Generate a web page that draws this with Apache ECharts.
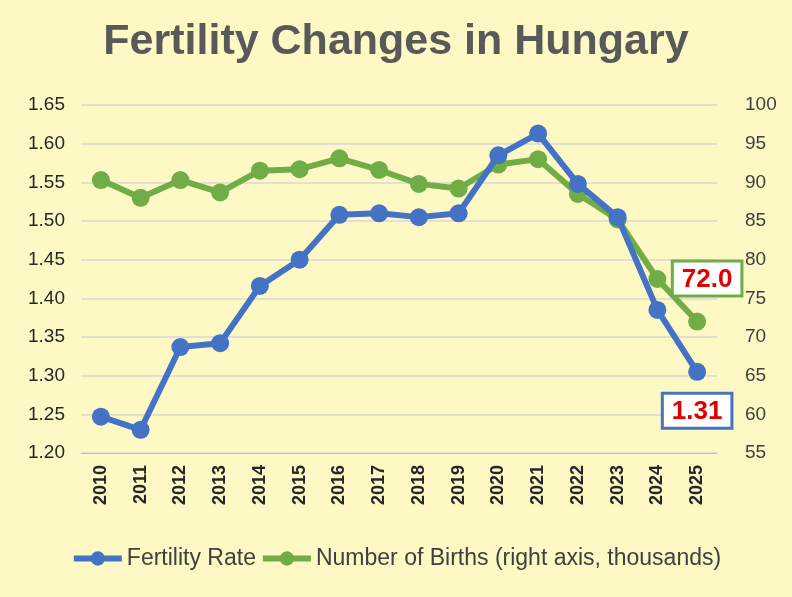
<!DOCTYPE html>
<html><head><meta charset="utf-8">
<script src="https://cdn.jsdelivr.net/npm/echarts@6/dist/echarts.min.js"></script>
<style>html,body{margin:0;padding:0;background:#fdf8c4}#c{width:792px;height:597px}</style>
</head><body><div id="c"></div>
<script>
const years = ['2010','2011','2012','2013','2014','2015','2016','2017','2018','2019','2020','2021','2022','2023','2024','2025'];
const fertility = [1.247,1.23,1.337,1.342,1.416,1.45,1.508,1.51,1.505,1.51,1.585,1.613,1.548,1.505,1.385,1.305];
const births = [90.3,88.0,90.3,88.7,91.5,91.7,93.1,91.6,89.8,89.2,92.3,93.0,88.5,85.2,77.5,72.0];
const leftTicks = {min: 1.2, max: 1.65, interval: 0.05};
const rightTicks = {min: 55, max: 100, interval: 5};

const chart = echarts.init(document.getElementById('c'));
const last = years.length - 1;
chart.setOption({
  backgroundColor: '#fdf8c4',
  title: {text: 'Fertility Changes in Hungary', left: 'center', top: 16,
    textStyle: {fontFamily: 'Liberation Sans', fontSize: 43, fontWeight: 'bold', color: '#595959'}},
  legend: {bottom: 22, left: 'center', itemWidth: 48, itemHeight: 18, itemGap: 4,
    lineStyle: {width: 6},
    textStyle: {fontFamily: 'Liberation Sans', fontSize: 23, color: '#404040'},
    data: ['Fertility Rate', 'Number of Births (right axis, thousands)']},
  grid: {left: 81, right: 75, top: 105, bottom: 144},
  xAxis: {type: 'category', data: years, boundaryGap: true,
    axisLine: {lineStyle: {color: '#bfbfbf'}}, axisTick: {show: false},
    axisLabel: {rotate: 90, fontFamily: 'Liberation Sans', fontSize: 18, fontWeight: 'bold', color: '#262626', margin: 12}},
  yAxis: [
    {type: 'value', ...leftTicks,
      axisLabel: {formatter: v => v.toFixed(2), fontFamily: 'Liberation Sans', fontSize: 19, color: '#262626', margin: 16},
      splitLine: {lineStyle: {color: '#d9d9d9', width: 1.5}}},
    {type: 'value', ...rightTicks,
      axisLabel: {fontFamily: 'Liberation Sans', fontSize: 19, color: '#404040', margin: 28},
      splitLine: {show: false}}
  ],
  series: [
    {name: 'Fertility Rate', type: 'line', data: fertility.map((v, i) => i === last ? {value: v, label: {
        show: true, formatter: '1.31', position: 'bottom', distance: 14, color: '#e00000', fontWeight: 'bold',
        fontFamily: 'Liberation Sans', fontSize: 26, backgroundColor: '#fff', borderColor: '#4472c4', borderWidth: 3,
        padding: [4, 8, 2, 8]}} : v),
      color: '#4472c4', lineStyle: {width: 6}, symbol: 'circle', symbolSize: 18, z: 3},
    {name: 'Number of Births (right axis, thousands)', type: 'line', yAxisIndex: 1,
      data: births.map((v, i) => i === last ? {value: v, label: {
        show: true, formatter: '72.0', position: 'top', distance: 18, offset: [10, 0], color: '#e00000', fontWeight: 'bold',
        fontFamily: 'Liberation Sans', fontSize: 26, backgroundColor: '#fff', borderColor: '#70ad47', borderWidth: 3,
        padding: [4, 8, 2, 8]}} : v),
      color: '#70ad47', lineStyle: {width: 6}, symbol: 'circle', symbolSize: 18, z: 2}
  ]
});
</script></body></html>
